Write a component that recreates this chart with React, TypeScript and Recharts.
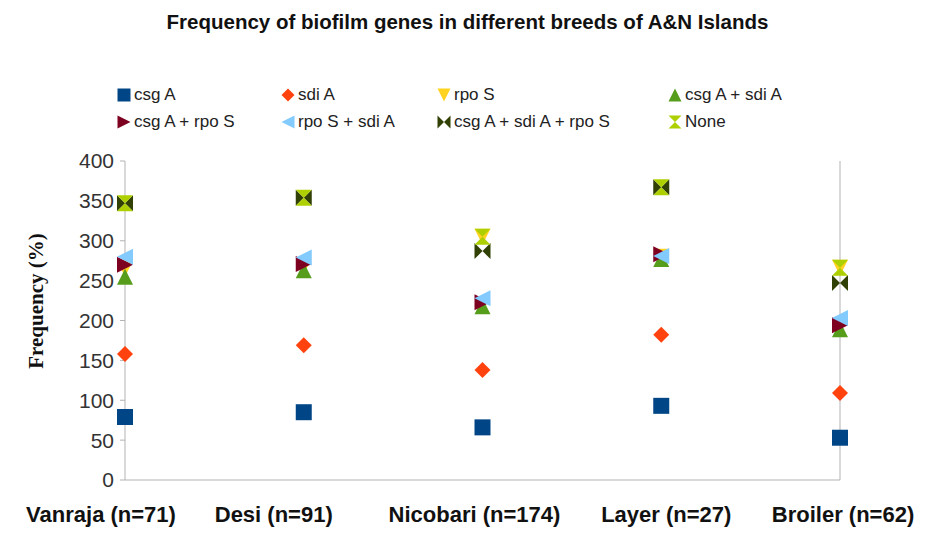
import React from 'react';
import {
  ScatterChart,
  Scatter,
  XAxis,
  YAxis,
  ReferenceLine,
} from 'recharts';

const categories = [
  'Vanraja (n=71)',
  'Desi (n=91)',
  'Nicobari (n=174)',
  'Layer (n=27)',
  'Broiler (n=62)',
];

const csgA = [79, 85, 66, 93, 53];
const sdiA = [158, 169, 138, 182, 109];
const rpoS = [265, 268, 305, 280, 266];
const csgASdiA = [255, 263, 218, 277, 189];
const csgARpoS = [270, 271, 223, 283, 194];
const rpoSSdiA = [280, 279, 228, 281, 203];
const allThree = [347, 354, 287, 367, 247];
const none = [347, 354, 305, 367, 266];

const yTicks = [0, 50, 100, 150, 200, 250, 300, 350, 400];

type Kind = 'square' | 'diamond' | 'down' | 'up' | 'right' | 'left' | 'bowtie' | 'hourglass';

const series: { name: string; values: number[]; color: string; kind: Kind }[] = [
  { name: 'csg A', values: csgA, color: '#004586', kind: 'square' },
  { name: 'sdi A', values: sdiA, color: '#ff420e', kind: 'diamond' },
  { name: 'rpo S', values: rpoS, color: '#ffd320', kind: 'down' },
  { name: 'csg A + sdi A', values: csgASdiA, color: '#579d1c', kind: 'up' },
  { name: 'csg A + rpo S', values: csgARpoS, color: '#7e0021', kind: 'right' },
  { name: 'rpo S + sdi A', values: rpoSSdiA, color: '#83caff', kind: 'left' },
  { name: 'csg A + sdi A + rpo S', values: allThree, color: '#314004', kind: 'bowtie' },
  { name: 'None', values: none, color: '#aecf00', kind: 'hourglass' },
];

const FONT = '"Liberation Sans", Arial, sans-serif';

function markerPath(kind: Kind, cx: number, cy: number, s: number): string {
  switch (kind) {
    case 'square':
      return `M${cx - s},${cy - s}H${cx + s}V${cy + s}H${cx - s}Z`;
    case 'diamond':
      return `M${cx},${cy - s}L${cx + s},${cy}L${cx},${cy + s}L${cx - s},${cy}Z`;
    case 'down':
      return `M${cx - s},${cy - s}L${cx + s},${cy - s}L${cx},${cy + s}Z`;
    case 'up':
      return `M${cx - s},${cy + s}L${cx + s},${cy + s}L${cx},${cy - s}Z`;
    case 'right':
      return `M${cx - s},${cy - s}L${cx - s},${cy + s}L${cx + s},${cy}Z`;
    case 'left':
      return `M${cx + s},${cy - s}L${cx + s},${cy + s}L${cx - s},${cy}Z`;
    case 'bowtie':
      return `M${cx - s},${cy - s}L${cx},${cy}L${cx - s},${cy + s}Z M${cx + s},${cy - s}L${cx},${cy}L${cx + s},${cy + s}Z`;
    case 'hourglass':
      return `M${cx - s},${cy - s}L${cx + s},${cy - s}L${cx},${cy}Z M${cx - s},${cy + s}L${cx + s},${cy + s}L${cx},${cy}Z`;
  }
}

const makeShape = (kind: Kind, color: string) => (props: any) => {
  const { cx, cy } = props;
  if (cx == null || cy == null) return <g />;
  return <path d={markerPath(kind, cx, cy, 8)} fill={color} />;
};

// the source nudges its category labels a little off the tick position
const labelNudge = [-24, -30, -8, 5, 3];

const CategoryTick = (props: any) => {
  const { x, y, payload, index } = props;
  return (
    <text
      x={x + (labelNudge[index] ?? 0)}
      y={y + 34}
      textAnchor="middle"
      fill="#111"
      fontSize={22}
      fontWeight="bold"
      fontFamily={FONT}
    >
      {categories[payload.value]}
    </text>
  );
};

const legendCols = [
  { icon: 124, text: 134 },
  { icon: 288, text: 298 },
  { icon: 444, text: 454 },
  { icon: 675, text: 685 },
];
const legendRows = [95, 122];

const Legend8 = () => (
  <>
    {series.map((s, i) => {
      const col = legendCols[i % 4];
      const y = legendRows[Math.floor(i / 4)];
      return (
        <div key={s.name}>
          <svg
            width={14}
            height={14}
            style={{ position: 'absolute', left: col.icon - 7, top: y - 7 }}
          >
            <path d={markerPath(s.kind, 7, 7, 6.5)} fill={s.color} />
          </svg>
          <div
            style={{
              position: 'absolute',
              left: col.text,
              top: y - 11,
              fontFamily: FONT,
              fontSize: 17,
              lineHeight: '22px',
              color: '#222',
              whiteSpace: 'nowrap',
            }}
          >
            {s.name}
          </div>
        </div>
      );
    })}
  </>
);

export default function App() {
  return (
    <div
      style={{
        position: 'absolute',
        left: 0,
        top: 0,
        width: 935,
        height: 560,
        background: '#fff',
      }}
    >
      <div
        style={{
          position: 'absolute',
          left: 0,
          top: 9,
          width: 935,
          textAlign: 'center',
          fontFamily: FONT,
          fontWeight: 'bold',
          fontSize: 20.5,
          lineHeight: '26px',
          color: '#111',
        }}
      >
        Frequency of biofilm genes in different breeds of A&amp;N Islands
      </div>
      <Legend8 />
      <div
        style={{
          position: 'absolute',
          left: 36,
          top: 301,
          transform: 'translate(-50%, -50%) rotate(-90deg)',
          fontFamily: '"Liberation Serif", "Times New Roman", serif',
          fontWeight: 'bold',
          fontSize: 21,
          color: '#111',
          whiteSpace: 'nowrap',
        }}
      >
        Frequency (%)
      </div>
      <ScatterChart
        width={935}
        height={560}
        margin={{ top: 161, right: 95, bottom: 20, left: 0 }}
      >
        <XAxis
          type="number"
          dataKey="x"
          domain={[0, 4]}
          ticks={[0, 1, 2, 3, 4]}
          interval={0}
          tickLine={false}
          axisLine={{ stroke: '#b3b3b3' }}
          tick={<CategoryTick />}
          height={60}
        />
        <YAxis
          type="number"
          dataKey="y"
          domain={[0, 400]}
          ticks={yTicks}
          width={125}
          tickSize={5}
          tickMargin={6}
          tickLine={{ stroke: '#b3b3b3' }}
          axisLine={{ stroke: '#b3b3b3' }}
          tick={{ fill: '#333', fontSize: 21, fontFamily: FONT }}
        />
        <ReferenceLine x={4} stroke="#b3b3b3" />
        {series.map((s) => (
          <Scatter
            key={s.name}
            name={s.name}
            data={s.values.map((v, i) => ({ x: i, y: v }))}
            fill={s.color}
            shape={makeShape(s.kind, s.color)}
            isAnimationActive={false}
          />
        ))}
      </ScatterChart>
    </div>
  );
}
